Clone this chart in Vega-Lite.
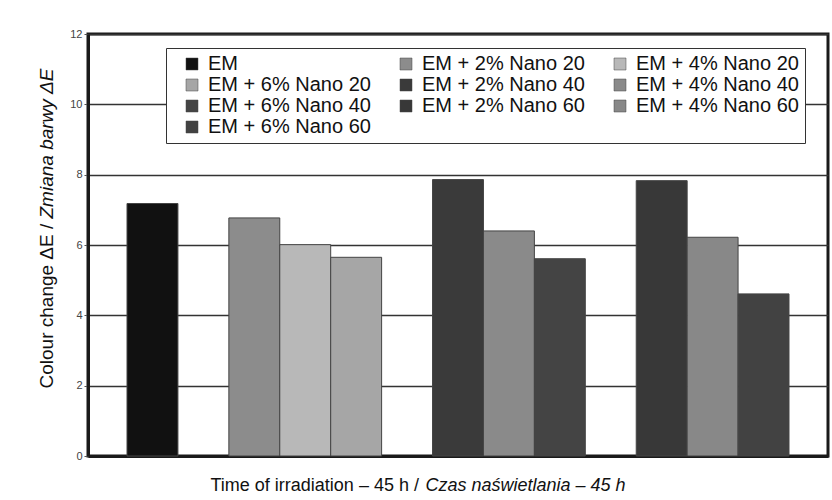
{
  "$schema": "https://vega.github.io/schema/vega-lite/v6.json",
  "width": 740,
  "height": 422,
  "autosize": {"type": "none"},
  "padding": {"left": 88, "top": 34, "right": 4, "bottom": 44},
  "background": "white",
  "config": {
    "font": "Liberation Sans",
    "view": {"stroke": "#1a1a1a", "strokeWidth": 3}
  },
  "data": {
    "values": [
      {"series": "EM", "value": 7.18},
      {"series": "EM + 2% Nano 20", "value": 6.77},
      {"series": "EM + 4% Nano 20", "value": 6.01},
      {"series": "EM + 6% Nano 20", "value": 5.65},
      {"series": "EM + 2% Nano 40", "value": 7.86},
      {"series": "EM + 4% Nano 40", "value": 6.4},
      {"series": "EM + 6% Nano 40", "value": 5.61},
      {"series": "EM + 2% Nano 60", "value": 7.83},
      {"series": "EM + 4% Nano 60", "value": 6.22},
      {"series": "EM + 6% Nano 60", "value": 4.61}
    ]
  },
  "layer": [
    {
      "mark": {"type": "bar", "stroke": "#444", "strokeWidth": 1},
      "encoding": {
        "x": {
          "field": "series",
          "type": "nominal",
          "sort": null,
          "scale": {
            "domain": ["EM", " ", "EM + 2% Nano 20", "EM + 4% Nano 20", "EM + 6% Nano 20", "  ", "EM + 2% Nano 40", "EM + 4% Nano 40", "EM + 6% Nano 40", "   ", "EM + 2% Nano 60", "EM + 4% Nano 60", "EM + 6% Nano 60"],
            "paddingInner": 0,
            "paddingOuter": 0.766
          },
          "axis": {
            "labels": false,
            "ticks": false,
            "domain": true,
            "domainColor": "#1a1a1a",
            "domainWidth": 3,
            "title": "Time of irradiation – 45 h /",
            "titleFont": "Liberation Sans",
            "titleFontSize": 18,
            "titleFontWeight": "normal",
            "titleColor": "#111",
            "titleAlign": "left",
            "titleAnchor": "start",
            "titleBaseline": "alphabetic",
            "titleX": 122,
            "titleY": 34
          }
        },
        "y": {
          "field": "value",
          "type": "quantitative",
          "scale": {"domain": [0, 12], "nice": false},
          "axis": {
            "values": [0, 2, 4, 6, 8, 10, 12],
            "domainColor": "#1a1a1a",
            "domainWidth": 3,
            "tickColor": "#555",
            "tickSize": 4,
            "tickWidth": 1,
            "labelFontSize": 11,
            "labelColor": "#444",
            "labelPadding": 2,
            "grid": true,
            "gridColor": "#333",
            "gridWidth": 1.5,
            "title": "Colour change ΔE /",
            "titleFont": "Liberation Sans",
            "titleFontSize": 19,
            "titleFontWeight": "normal",
            "titleColor": "#111",
            "titleAngle": -90,
            "titleAlign": "left",
            "titleBaseline": "alphabetic",
            "titleX": -36,
            "titleY": 354
          }
        },
        "color": {
          "field": "series",
          "type": "nominal",
          "scale": {
            "domain": ["EM", "EM + 2% Nano 20", "EM + 4% Nano 20", "EM + 6% Nano 20", "EM + 2% Nano 40", "EM + 4% Nano 40", "EM + 6% Nano 40", "EM + 2% Nano 60", "EM + 4% Nano 60", "EM + 6% Nano 60"],
            "range": ["#111111", "#8c8c8c", "#b8b8b8", "#a6a6a6", "#3a3a3a", "#8a8a8a", "#444444", "#383838", "#888888", "#424242"]
          },
          "legend": {
            "orient": "none",
            "legendX": 78,
            "legendY": 14,
            "columns": 3,
            "direction": "horizontal",
            "title": null,
            "symbolType": "square",
            "symbolSize": 144,
            "symbolStrokeColor": "#444",
            "symbolStrokeWidth": 0.5,
            "symbolOffset": 10,
            "labelFont": "Liberation Sans",
            "labelFontSize": 20,
            "labelColor": "#111",
            "labelLimit": 300,
            "labelOffset": 6,
            "columnPadding": 15,
            "rowPadding": 1,
            "padding": 6,
            "strokeColor": "#333",
            "fillColor": "white"
          }
        }
      }
    },
    {
      "mark": {"type": "point", "opacity": 0},
      "encoding": {
        "x": {
          "field": "series",
          "type": "nominal",
          "axis": {
            "orient": "bottom",
            "labels": false,
            "ticks": false,
            "domain": false,
            "grid": false,
            "title": "Czas naświetlania – 45 h",
            "titleFont": "Liberation Sans",
            "titleFontSize": 18,
            "titleFontWeight": "normal",
            "titleFontStyle": "italic",
            "titleColor": "#111",
            "titleAlign": "left",
            "titleAnchor": "start",
            "titleBaseline": "alphabetic",
            "titleX": 337,
            "titleY": 34
          }
        },
        "y": {
          "field": "value",
          "type": "quantitative",
          "scale": {"domain": [0, 12], "nice": false},
          "axis": {
            "orient": "left",
            "labels": false,
            "ticks": false,
            "domain": false,
            "grid": false,
            "title": "Zmiana barwy ΔE",
            "titleFont": "Liberation Sans",
            "titleFontSize": 19,
            "titleFontWeight": "normal",
            "titleFontStyle": "italic",
            "titleColor": "#111",
            "titleAngle": -90,
            "titleAlign": "left",
            "titleBaseline": "alphabetic",
            "titleX": -36,
            "titleY": 184
          }
        }
      }
    }
  ],
  "resolve": {"scale": {"x": "independent", "y": "independent"}}
}
